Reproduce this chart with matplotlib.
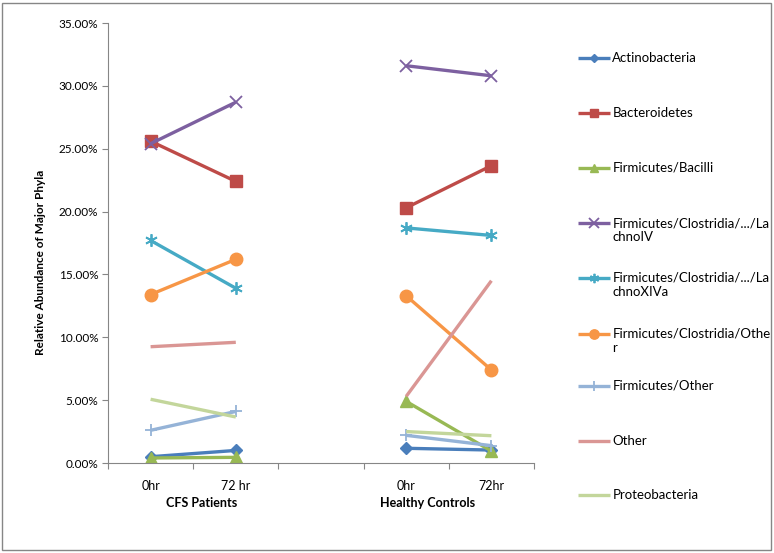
import matplotlib
matplotlib.use("Agg")
import matplotlib.pyplot as plt
import numpy as np
from matplotlib.patches import Rectangle

plt.rcParams['font.family'] = ['Lato', 'DejaVu Sans']

# categories (index 2 is an empty gap between groups)
categories = ["0hr", "72 hr", "", "0hr", "72hr"]
groups = ["CFS Patients", "Healthy Controls"]

series_names = [
    "Actinobacteria",
    "Bacteroidetes",
    "Firmicutes/Bacilli",
    "Firmicutes/Clostridia/.../La\nchnoIV",
    "Firmicutes/Clostridia/.../La\nchnoXIVa",
    "Firmicutes/Clostridia/Othe\nr",
    "Firmicutes/Other",
    "Other",
    "Proteobacteria",
]

# values in percent: CFS 0hr, CFS 72hr, (gap), Healthy 0hr, Healthy 72hr
actinobacteria = [0.5, 1.0, np.nan, 1.17, 1.03]
bacteroidetes = [25.6, 22.4, np.nan, 20.3, 23.65]
bacilli = [0.4, 0.45, np.nan, 4.9, 0.95]
lachno_iv = [25.4, 28.7, np.nan, 31.6, 30.8]
lachno_xiva = [17.7, 13.9, np.nan, 18.7, 18.1]
clostridia_other = [13.4, 16.2, np.nan, 13.3, 7.4]
firmicutes_other = [2.6, 4.1, np.nan, 2.2, 1.38]
other = [9.25, 9.6, np.nan, 5.3, 14.5]
proteobacteria = [5.07, 3.66, np.nan, 2.5, 2.17]

values = [actinobacteria, bacteroidetes, bacilli, lachno_iv, lachno_xiva,
          clostridia_other, firmicutes_other, other, proteobacteria]

colors = ["#4A7EBB", "#BE4B48", "#98B954", "#7D60A0", "#46AAC5",
          "#F79646", "#95B3D7", "#DA9694", "#C3D69B"]
markers = ["D", "s", "^", "x", (6, 2, 0), "o", "+", None, None]
msizes = [6, 8, 8, 9, 9, 9, 9, 0, 0]

fig = plt.figure(figsize=(7.74, 5.53), dpi=100)
ax = fig.add_axes([108 / 774, 90 / 553, 426 / 774, 440 / 553])

x = np.arange(len(categories))
handles = []
for vals, name, c, m, ms in zip(values, series_names, colors, markers, msizes):
    h, = ax.plot(x, vals, color=c, lw=2.4, marker=m, markersize=ms,
                 markeredgewidth=1.3 if m in ("x", "+") or isinstance(m, tuple) else 1,
                 label=name, solid_capstyle="butt")
    handles.append(h)

ax.set_xlim(-0.5, len(categories) - 0.5)
ax.set_ylim(0, 35)
ax.set_yticks(np.arange(0, 36, 5))
ax.set_yticklabels([f"{v:.2f}%" for v in np.arange(0, 36, 5)], fontsize=8.5)

# boundaries as major ticks, labels on minor ticks
ax.set_xticks(np.arange(-0.5, len(categories), 1.0))
ax.set_xticklabels([])
ax.set_xticks(x, minor=True)
ax.set_xticklabels(categories, minor=True, fontsize=9)
ax.tick_params(axis="x", which="minor", length=0, pad=12)
ax.tick_params(axis="x", which="major", length=4, color="#868686")
ax.tick_params(axis="y", length=4, color="#868686", pad=3)

for s in ["top", "right"]:
    ax.spines[s].set_visible(False)
for s in ["left", "bottom"]:
    ax.spines[s].set_color("#868686")

# group labels
ax.text(0.6, -0.091, groups[0], transform=ax.get_xaxis_transform(),
        ha="center", va="center", fontsize=9, fontweight="bold")
ax.text(3.25, -0.091, groups[1], transform=ax.get_xaxis_transform(),
        ha="center", va="center", fontsize=9, fontweight="bold")

ax.set_ylabel("Relative Abundance of Major Phyla", fontsize=8.5, fontweight="bold")
ax.yaxis.set_label_coords(-0.145, 0.455)

# legend, one entry per row at fixed spacing
leg_y = [57, 112, 167, 222, 277, 333, 385, 440, 494]
for h, name, yp in zip(handles, series_names, leg_y):
    leg = fig.legend(handles=[h], labels=[name], loc="upper left",
                     bbox_to_anchor=(578 / 774, 1 - (yp - 5) / 553),
                     frameon=False, borderpad=0, borderaxespad=0,
                     handlelength=2.4, handleheight=1.2, handletextpad=0.2,
                     fontsize=9.5, markerscale=0.75)
    try:
        leg._legend_handle_box.get_children()[0].get_children()[0].align = "top"
    except Exception:
        pass

fig.patches.append(Rectangle((2 / 774, 3 / 553), 769 / 774, 547 / 553,
                             transform=fig.transFigure, fill=False,
                             edgecolor="#868686", lw=1))

fig.savefig("out.png", dpi=100)
